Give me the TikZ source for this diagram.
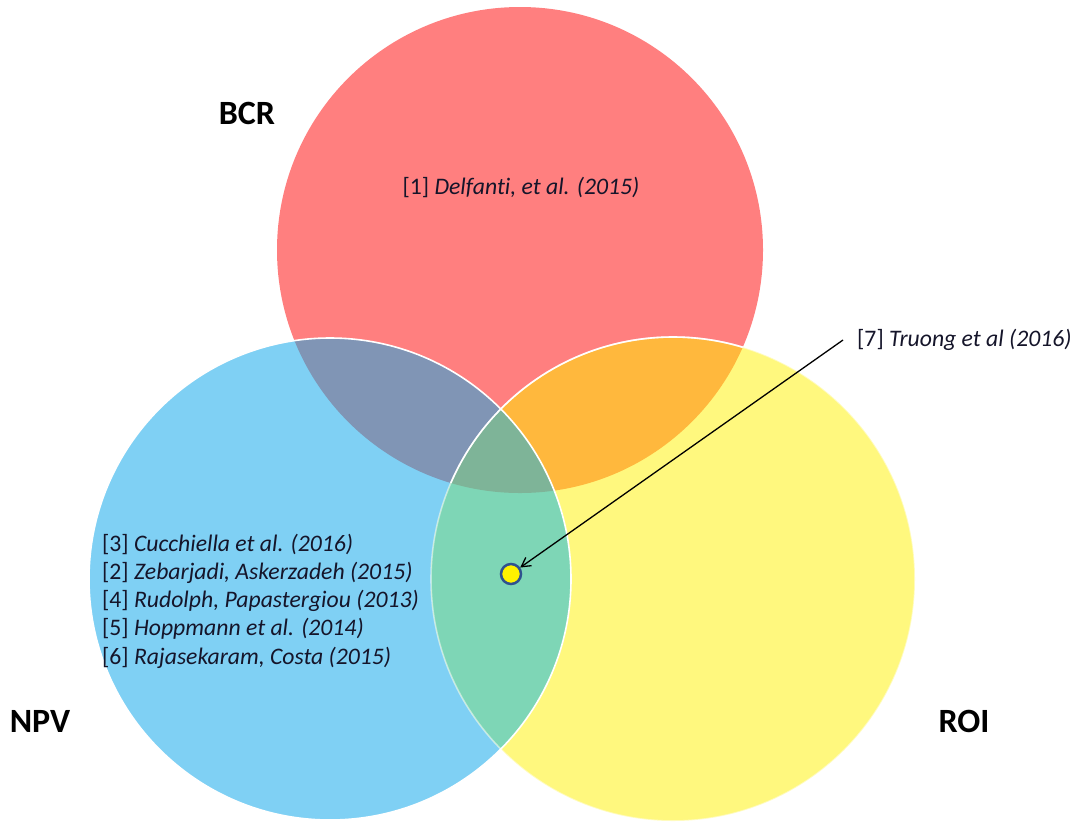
\documentclass[tikz,border=0pt]{standalone}
\usepackage{fontspec}
\setmainfont{Carlito}[Ligatures=NoCommon]
\usepackage{xcolor}
\usetikzlibrary{arrows.meta}
\definecolor{bcrred}{HTML}{FF7F7F}
\definecolor{npvblue}{HTML}{7FD0F4}
\definecolor{roiyellow}{HTML}{FFF87E}
\definecolor{bcrnpv}{HTML}{8095B5}
\definecolor{bcrroi}{HTML}{FFB83D}
\definecolor{npvroi}{HTML}{7ED6B6}
\definecolor{allthree}{HTML}{7EB498}
\definecolor{refdark}{HTML}{15152A}
\definecolor{dotyellow}{HTML}{FFF200}
\definecolor{dotblue}{HTML}{2F528F}

\begin{document}
\begin{tikzpicture}[
        x=1pt, y=-1pt,
        setlabel/.style={
          font=\fontsize{34}{40}\selectfont\bfseries,
          text=black
        },
        ref/.style={
          font=\fontsize{23.7}{28.2}\selectfont,
          text=refdark,
          inner sep=0pt,
          align=left
        },
        arrow/.style={
          -{Straight Barb[length=9pt,width=10pt]},
          line width=1.3pt,
          black
        }
      ]

      \useasboundingbox (0,0) rectangle (1076,823);

      \def\bcrset{(520,250) circle[radius=243]}
      \def\npvset{(330,579) circle[radius=241]}
      \def\roiset{(673,579) circle[radius=242]}

      % the three sets
      \fill[bcrred] \bcrset;
      \fill[npvblue] \npvset;
      \fill[roiyellow] \roiset;

      % overlaps
      \begin{scope}
        \clip \bcrset;
        \fill[bcrnpv] \npvset;
        \fill[bcrroi] \roiset;
      \end{scope}
      \begin{scope}
        \clip \npvset;
        \fill[npvroi] \roiset;
      \end{scope}
      \begin{scope}
        \clip \bcrset;
        \clip \npvset;
        \fill[allthree] \roiset;
      \end{scope}

      % white rims
      \draw[white, line width=1.6pt] \npvset;
      \draw[white, line width=1.6pt, opacity=0.5] \roiset;
      \begin{scope}
        \clip \bcrset;
        \draw[white, line width=1.6pt] \roiset;
      \end{scope}

      \node[setlabel] (bcr) at (247,113) {BCR};
      \node[setlabel] (npv) at (40,721) {NPV};
      \node[setlabel] (roi) at (964,721) {ROI};

      \node[ref] (delfanti) at (521,187) {[1] \textit{Delfanti, et al. (2015)}};

      \node[ref, anchor=west] (npvrefs) at (102,601) {
        {[3]} \textit{Cucchiella et al. (2016)}\\
        {[2]} \textit{Zebarjadi, Askerzadeh (2015)}\\
        {[4]} \textit{Rudolph, Papastergiou (2013)}\\
        {[5]} \textit{Hoppmann et al. (2014)}\\
        {[6]} \textit{Rajasekaram, Costa (2015)}
      };

      \node[ref, anchor=west] (truong) at (857,340) {[7] \textit{Truong et al (2016)}};

      \node[circle, fill=dotyellow, draw=dotblue, line width=2.5pt,
            minimum size=20pt, inner sep=0pt] (dot) at (511,574) {};

      \draw[arrow] ([xshift=-14pt]truong.west) -- (dot);

      \end{tikzpicture}
\end{document}
